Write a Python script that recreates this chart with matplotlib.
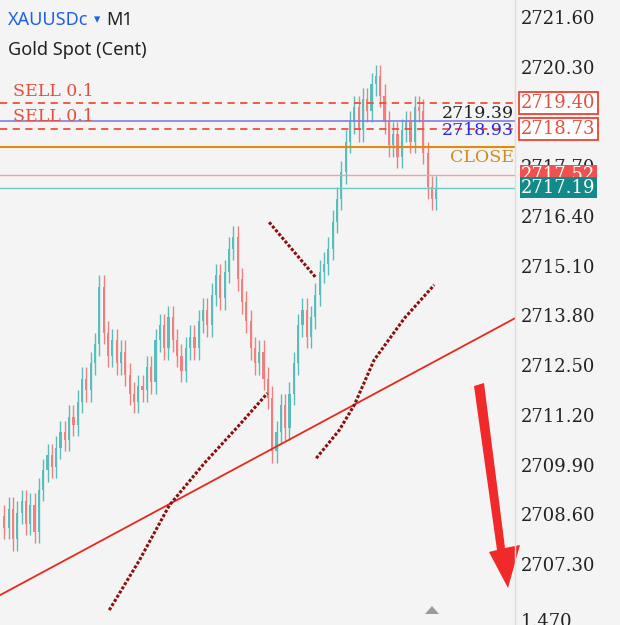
import matplotlib
matplotlib.use("Agg")
import matplotlib.pyplot as plt
from matplotlib.patches import Polygon, Rectangle
import matplotlib.transforms as mtrans

closes = [2708.3,2708.8,2708.0,2708.7,2709.0,2708.4,2708.9,2708.2,
          2709.3,2709.8,2710.2,2709.9,2710.4,2710.8,
          2710.6,2711.2,2711.0,2711.6,
          2712.2,2711.9,2712.6,2713.1,2714.6,
          2713.4,2712.8,2713.2,2712.6,2712.9,
          2712.3,2711.8,2711.6,2712.0,2711.9,
          2712.5,2712.1,2713.2,2713.6,2713.0,
          2713.8,2713.2,2712.8,2712.4,2713.0,
          2713.3,2713.0,2713.7,2714.0,2713.6,
          2714.4,2714.9,2714.3,2715.0,2715.6,
          2715.9,2714.8,2714.2,2713.7,2713.0,
          2712.6,2712.9,2712.2,2711.7,2710.3,
          2710.8,2711.5,2710.9,2711.8,2712.6,
          2713.6,2714.0,2713.3,2713.8,2714.4,
          2715.0,2715.2,2715.6,2716.3,2716.9,
          2717.6,2718.4,2718.9,2719.3,2718.7,
          2719.5,2719.2,2719.9,2720.1,2719.6,
          2718.9,2718.3,2718.6,2718.0,2718.7,
          2718.9,2718.4,2719.3,2719.2,2718.1,
          2717.2,2716.9,2717.19]
first_open = 2708.6

ticks = [2721.60,2720.30,2717.70,2716.40,2715.10,2713.80,2712.50,2711.20,2709.90,2708.60,2707.30]
sell_levels = [2719.40, 2718.73]
blue_level = 2718.93
close_level = 2718.25
bid_level = 2717.52
ask_level = 2717.19

trend_x = [-1, 118.2]; trend_y = [2706.54, 2713.78]
curveA_x = [24.3,31.3,38.2,46.3,54.4,60.9]; curveA_y = [2706.15,2707.46,2708.89,2709.99,2710.99,2711.82]
curveB_x = [61.3,72.2]; curveB_y = [2716.29,2714.83]
curveC_x = [72.2,77.5,81.0,85.6,92.6,99.5]; curveC_y = [2710.12,2710.85,2711.51,2712.69,2713.78,2714.65]

W, H = 620, 625
fig = plt.figure(figsize=(6.2, 6.25), dpi=100)
fig.patch.set_facecolor('#f4f4f4')
ax = fig.add_axes([0, 0, 515/W, 1])
ax.set_facecolor('#f4f4f4')
ax.set_xlim(-1, 118.2)
ax.set_ylim(2705.76, 2722.10)
for s in ax.spines.values(): s.set_visible(False)
ax.set_xticks([]); ax.set_yticks([])
fig.add_artist(plt.Line2D([515/W,515/W],[0,1],color='#dddddd',lw=1))

o = first_open
for i, c in enumerate(closes):
    up = c >= o
    col = '#5bbcbc' if up else '#f08080'
    hi = max(o, c) + 0.3; lo = min(o, c) - 0.3
    ax.vlines(i, lo, hi, color=col, lw=1)
    ax.add_patch(Rectangle((i-0.25, min(o, c)), 0.5, max(abs(c-o), 0.03), color=col, lw=0))
    o = c

ax.plot(trend_x, trend_y, color='#e8281e', lw=1.3)
for xs, ys in [(curveA_x, curveA_y), (curveB_x, curveB_y), (curveC_x, curveC_y)]:
    ax.plot(xs, ys, color='#8b0f0f', lw=2.2, ls=(0, (1, 0.6)))

for lv in sell_levels:
    ax.axhline(lv, color='#f0503c', lw=1.3, ls=(0, (4, 3)))
ax.axhline(blue_level, color='#8080e0', lw=1.2)
ax.axhline(close_level, color='#e08a10', lw=1.5)
ax.axhline(bid_level, color='#f4a0a0', lw=1)
ax.axhline(ask_level, color='#70c8c8', lw=1)

serif = 'DejaVu Serif'
fs = 12.5
ax.text(2, 2719.72, 'SELL 0.1', color='#e05040', fontsize=fs, family=serif, va='center')
ax.text(2, 2719.06, 'SELL 0.1', color='#e05040', fontsize=fs, family=serif, va='center')
ax.text(117.9, 2719.14, '2719.39', color='#222222', fontsize=fs, family=serif, ha='right', va='center')
ax.text(117.9, 2718.68, '2718.93', color='#2a2ae0', fontsize=fs, family=serif, ha='right', va='center')
ax.text(117.9, 2717.98, 'CLOSE', color='#d08a20', fontsize=fs, family=serif, ha='right', va='center')

tr = mtrans.blended_transform_factory(fig.transFigure, ax.transData)
xl = 521/W
for t in ticks:
    ax.text(xl, t, f'{t:.2f}', transform=tr, fontsize=13, family=serif, color='#222222', va='center', clip_on=False)
for lv in sell_levels:
    ax.text(xl, lv, f'{lv:.2f}', transform=tr, fontsize=13, family=serif, color='#e05040', va='center',
            bbox=dict(boxstyle='square,pad=0.12', fc='white', ec='#f04030', lw=1.3))
ax.text(xl, bid_level, f'{bid_level:.2f}', transform=tr, fontsize=13, family=serif, color='white', va='center',
        bbox=dict(boxstyle='square,pad=0.08', fc='#ef5050', ec='none'))
ax.text(xl, ask_level, f'{ask_level:.2f}', transform=tr, fontsize=13, family=serif, color='white', va='center',
        bbox=dict(boxstyle='square,pad=0.08', fc='#138a8a', ec='none'))
fig.text(xl, 1 - 622/H, '1.470', fontsize=13, family=serif, color='#222222', va='center')

fig.text(8/W, 1 - 20/H, 'XAUUSDc', color='#2060e8', fontsize=13, family='Noto Sans', va='center')
fig.text(94/W, 1 - 20/H, '▾', color='#2060e8', fontsize=9, family='DejaVu Sans', va='center')
fig.text(106/W, 1 - 20/H, 'M1', color='#222222', fontsize=13, family='Noto Sans', va='center')
fig.text(8/W, 1 - 50/H, 'Gold Spot (Cent)', color='#222222', fontsize=13, family='Noto Sans', va='center')

def P(pts):
    return [(x/W, 1 - y/H) for x, y in pts]
fig.add_artist(Polygon(P([(474,386),(484,383),(505,548),(520,545),(508,588),(489,552),(497,550)]),
                       closed=True, fc='#f02a2a', ec='none', transform=fig.transFigure))
fig.add_artist(Polygon(P([(425,614),(439,614),(432,606)]), closed=True, fc='#999999', ec='none', transform=fig.transFigure))

fig.savefig('out.png', dpi=100, facecolor=fig.get_facecolor())
